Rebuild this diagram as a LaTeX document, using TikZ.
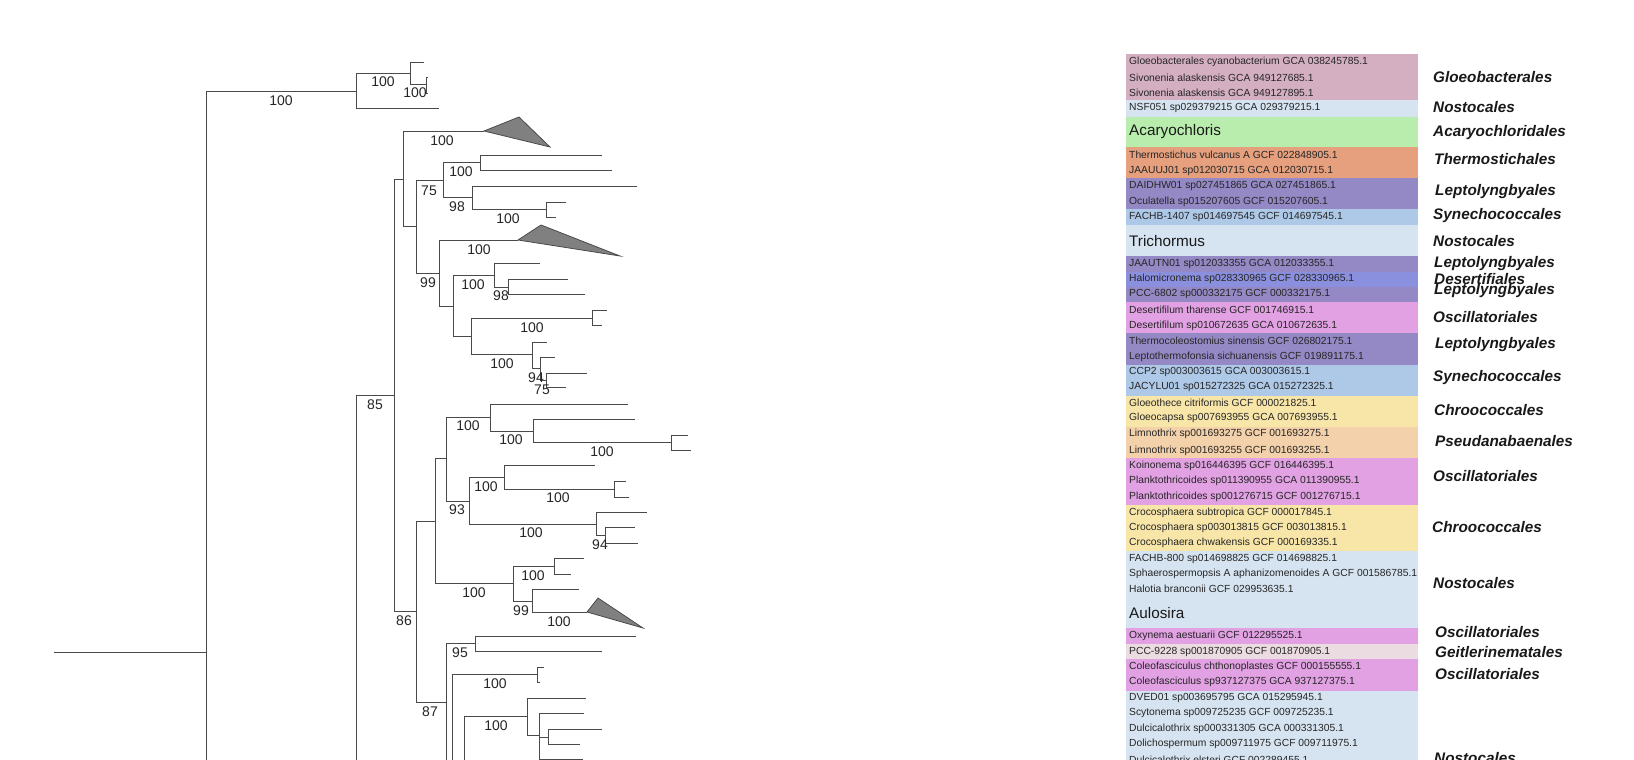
\documentclass[tikz,border=0pt]{standalone}
\usepackage{fontspec}
\setmainfont{Liberation Sans}
\definecolor{cMauve}{HTML}{D4AEC1}
\definecolor{cLB}{HTML}{D6E4F1}
\definecolor{cGreen}{HTML}{B9EDAE}
\definecolor{cOrange}{HTML}{E6A07E}
\definecolor{cPurple}{HTML}{9589C5}
\definecolor{cBlue}{HTML}{AEC8E7}
\definecolor{cViolet}{HTML}{8B90DE}
\definecolor{cPink}{HTML}{E1A1E3}
\definecolor{cYellow}{HTML}{F8E6A9}
\definecolor{cPeach}{HTML}{F3D1AA}
\definecolor{cPale}{HTML}{EBDCE1}
\definecolor{cLine}{HTML}{4A4A4A}
\newcommand{\tn}[3]{\coordinate (#1) at (#2,#3);}
\begin{document}
\begin{tikzpicture}[x=1pt,y=-1pt,
  branch/.style={draw=cLine,line width=0.9pt},
  tri/.style={draw=cLine,fill=black!50,line width=0.8pt,line join=miter},
  bs/.style={font=\fontsize{14}{16}\selectfont,inner sep=0pt,text=black!85},
  sp/.style={font=\fontsize{10.3}{12}\selectfont,inner sep=0pt,anchor=west,text=black!85},
  big/.style={font=\fontsize{15.3}{18}\selectfont,inner sep=0pt,anchor=west,text=black!90},
  ord/.style={font=\fontsize{15.3}{18}\selectfont\bfseries\itshape,inner sep=0pt,anchor=west,text=black!90}]
\useasboundingbox (0,0) rectangle (1634,760);
\clip (0,0) rectangle (1634,760);
\fill[white] (0,0) rectangle (1634,760);
% ---------- tree coordinates ----------
\tn{stub}{54}{652}\tn{R}{206}{652}
\tn{G}{356}{91}\tn{g1}{439}{108}\tn{g2}{410}{73}\tn{g2a}{424}{62}
\tn{g3}{426}{84}\tn{g3a}{428}{77}\tn{g3b}{428}{93}
\tn{N}{356}{800}\tn{A}{394}{395}
\tn{B}{403}{179}\tn{T1}{484}{131}\tn{T1u}{519}{117}\tn{T1l}{550}{147}
\tn{D}{416}{226}\tn{E}{443}{180}
\tn{H}{480}{162}\tn{h1}{602}{155}\tn{h2}{612}{170}
\tn{I}{472}{197}\tn{i1}{637}{186}\tn{J}{546}{209}\tn{j1}{566}{202}\tn{j2}{556}{217}
\tn{F}{439}{273}\tn{T2}{518}{240}\tn{T2u}{541}{225}\tn{T2l}{620}{256}
\tn{K}{453}{306}\tn{L}{494}{275}\tn{l1}{540}{263}
\tn{L2}{508}{287}\tn{l2a}{568}{279}\tn{l2b}{585}{294}
\tn{M}{471}{336}\tn{M1}{592}{318}\tn{m1a}{607}{310}\tn{m1b}{602}{325}
\tn{M2}{532}{354}\tn{m2}{547}{342}\tn{M3}{540}{368}\tn{m3}{555}{357}
\tn{M4}{546}{380}\tn{m4a}{587}{373}\tn{m4b}{566}{387}
\tn{C}{416}{611}\tn{P}{435}{521}\tn{P1}{446}{458}
\tn{S}{490}{417}\tn{s1}{628}{404}\tn{S2}{533}{431}\tn{s2}{635}{419}
\tn{S3}{671}{442}\tn{s3a}{688}{435}\tn{s3b}{691}{450}
\tn{U}{469}{501}\tn{V}{504}{477}\tn{v1}{595}{465}
\tn{V2}{614}{489}\tn{v2a}{626}{481}\tn{v2b}{629}{497}
\tn{W}{596}{524}\tn{w1}{647}{512}\tn{W2}{605}{535}\tn{w2a}{635}{527}\tn{w2b}{638}{543}
\tn{P2}{513}{583}\tn{X}{554}{566}\tn{x1}{584}{558}\tn{x2}{571}{574}
\tn{Y}{532}{601}\tn{y1}{579}{589}\tn{T3}{587}{612}\tn{T3u}{598}{598}\tn{T3l}{643}{628}
\tn{Q}{446}{702}\tn{Z1}{475}{643}\tn{z1a}{636}{636}\tn{z1b}{602}{651}
\tn{Z2}{452}{790}\tn{Z3}{537}{674}\tn{z3a}{544}{667}\tn{z3b}{540}{682}
\tn{Z4}{464}{820}\tn{Z6}{527}{716}\tn{z6}{586}{698}
\tn{Z7}{539}{735}\tn{z7a}{584}{713}\tn{z7c}{583}{759}
\tn{Z8}{548}{737}\tn{z8a}{602}{729}\tn{z8b}{580}{744}
% ---------- branches ----------
\draw[branch] (stub) -- (R);
\foreach \p/\c in {R/G,R/N,G/g1,G/g2,g2/g2a,g2/g3,g3/g3a,g3/g3b,N/A,A/B,A/C,B/T1,B/D,
  D/E,D/F,E/H,E/I,H/h1,H/h2,I/i1,I/J,J/j1,J/j2,F/T2,F/K,K/L,K/M,L/l1,L/L2,L2/l2a,L2/l2b,
  M/M1,M/M2,M1/m1a,M1/m1b,M2/m2,M2/M3,M3/m3,M3/M4,M4/m4a,M4/m4b,C/P,C/Q,P/P1,P/P2,
  P1/S,P1/U,S/s1,S/S2,S2/s2,S2/S3,S3/s3a,S3/s3b,U/V,U/W,V/v1,V/V2,V2/v2a,V2/v2b,
  W/w1,W/W2,W2/w2a,W2/w2b,P2/X,P2/Y,X/x1,X/x2,Y/y1,Y/T3,Q/Z1,Q/Z2,Z1/z1a,Z1/z1b,
  Z2/Z3,Z2/Z4,Z3/z3a,Z3/z3b,Z4/Z6,Z6/z6,Z6/Z7,Z7/z7a,Z7/Z8,Z7/z7c,Z8/z8a,Z8/z8b}
  {\draw[branch] (\p) |- (\c);}
\draw[tri] (T1) -- (T1u) -- (T1l) -- cycle;
\draw[tri] (T2) -- (T2u) -- (T2l) -- cycle;
\draw[tri] (T3) -- (T3u) -- (T3l) -- cycle;
% ---------- bootstrap values ----------
\foreach \x/\y/\t [count=\i] in {281/101/100,383/82/100,415/93/100,442/141/100,429/191/75,
  461/172/100,457/207/98,508/219/100,428/283/99,479/250/100,473/285/100,501/296/98,
  532/328/100,502/364/100,536/378/94,542/390/75,375/405/85,404/621/86,468/426/100,
  511/440/100,602/452/100,457/510/93,486/487/100,558/498/100,531/533/100,600/545/94,
  474/593/100,533/576/100,521/611/99,559/622/100,430/712/87,460/653/95,495/684/100,496/726/100}
  {\node[bs] (bs\i) at (\x,\y) {\t};}
% ---------- colour bands ----------
\fill[cMauve] (1126,54) rectangle (1418,100);
\fill[cLB] (1126,100) rectangle (1418,117);
\fill[cGreen] (1126,117) rectangle (1418,147);
\fill[cOrange] (1126,147) rectangle (1418,178);
\fill[cPurple] (1126,178) rectangle (1418,209);
\fill[cBlue] (1126,209) rectangle (1418,225);
\fill[cLB] (1126,225) rectangle (1418,256);
\fill[cPurple] (1126,256) rectangle (1418,272);
\fill[cViolet] (1126,272) rectangle (1418,287);
\fill[cPurple] (1126,287) rectangle (1418,302);
\fill[cPink] (1126,302) rectangle (1418,333);
\fill[cPurple] (1126,333) rectangle (1418,365);
\fill[cBlue] (1126,365) rectangle (1418,396);
\fill[cYellow] (1126,396) rectangle (1418,427);
\fill[cPeach] (1126,427) rectangle (1418,458);
\fill[cPink] (1126,458) rectangle (1418,505);
\fill[cYellow] (1126,505) rectangle (1418,551);
\fill[cLB] (1126,551) rectangle (1418,628);
\fill[cPink] (1126,628) rectangle (1418,644);
\fill[cPale] (1126,644) rectangle (1418,659);
\fill[cPink] (1126,659) rectangle (1418,691);
\fill[cLB] (1126,691) rectangle (1418,770);
% ---------- species names ----------
\foreach \y/\t [count=\i] in {
  62/Gloeobacterales cyanobacterium GCA 038245785.1,
  78/Sivonenia alaskensis GCA 949127685.1,
  93/Sivonenia alaskensis GCA 949127895.1,
  108/NSF051 sp029379215 GCA 029379215.1,
  155/Thermostichus vulcanus A GCF 022848905.1,
  171/JAAUUJ01 sp012030715 GCA 012030715.1,
  186/DAIDHW01 sp027451865 GCA 027451865.1,
  202/Oculatella sp015207605 GCF 015207605.1,
  217/FACHB-1407 sp014697545 GCF 014697545.1,
  264/JAAUTN01 sp012033355 GCA 012033355.1,
  279/Halomicronema sp028330965 GCF 028330965.1,
  294/PCC-6802 sp000332175 GCF 000332175.1,
  310/Desertifilum tharense GCF 001746915.1,
  326/Desertifilum sp010672635 GCA 010672635.1,
  341/Thermocoleostomius sinensis GCF 026802175.1,
  357/Leptothermofonsia sichuanensis GCF 019891175.1,
  372/CCP2 sp003003615 GCA 003003615.1,
  387/JACYLU01 sp015272325 GCA 015272325.1,
  403/Gloeothece citriformis GCF 000021825.1,
  418/Gloeocapsa sp007693955 GCA 007693955.1,
  434/Limnothrix sp001693275 GCF 001693275.1,
  451/Limnothrix sp001693255 GCF 001693255.1,
  466/Koinonema sp016446395 GCF 016446395.1,
  481/Planktothricoides sp011390955 GCA 011390955.1,
  497/Planktothricoides sp001276715 GCF 001276715.1,
  513/Crocosphaera subtropica GCF 000017845.1,
  528/Crocosphaera sp003013815 GCF 003013815.1,
  543/Crocosphaera chwakensis GCF 000169335.1,
  559/FACHB-800 sp014698825 GCF 014698825.1,
  574/Sphaerospermopsis A aphanizomenoides A GCF 001586785.1,
  589/Halotia branconii GCF 029953635.1,
  636/Oxynema aestuarii GCF 012295525.1,
  652/PCC-9228 sp001870905 GCF 001870905.1,
  667/Coleofasciculus chthonoplastes GCF 000155555.1,
  682/Coleofasciculus sp937127375 GCA 937127375.1,
  698/DVED01 sp003695795 GCA 015295945.1,
  713/Scytonema sp009725235 GCF 009725235.1,
  729/Dulcicalothrix sp000331305 GCA 000331305.1,
  744/Dolichospermum sp009711975 GCF 009711975.1,
  760/Dulcicalothrix elsteri GCF 002289455.1}
  {\node[sp] (sp\i) at (1129,\y) {\t};}
\node[big] (cl1) at (1129,132) {Acaryochloris};
\node[big] (cl2) at (1129,241) {Trichormus};
\node[big] (cl3) at (1129,613) {Aulosira};
% ---------- orders ----------
\foreach \x/\y/\t [count=\i] in {
  1433/77/Gloeobacterales,1433/107/Nostocales,1433/133/Acaryochloridales,
  1434/159/Thermostichales,1435/192/Leptolyngbyales,1433/216/Synechococcales,
  1433/241/Nostocales,1434/264/Leptolyngbyales,1434/279/Desertifiales,
  1434/291/Leptolyngbyales,1433/317/Oscillatoriales,1435/345/Leptolyngbyales,
  1433/378/Synechococcales,1434/410/Chroococcales,1435/441/Pseudanabaenales,
  1433/476/Oscillatoriales,1432/527/Chroococcales,1433/583/Nostocales,
  1435/632/Oscillatoriales,1435/652/Geitlerinematales,1435/674/Oscillatoriales,
  1434/758/Nostocales}
  {\node[ord] (or\i) at (\x,\y) {\t};}
\end{tikzpicture}
\end{document}
